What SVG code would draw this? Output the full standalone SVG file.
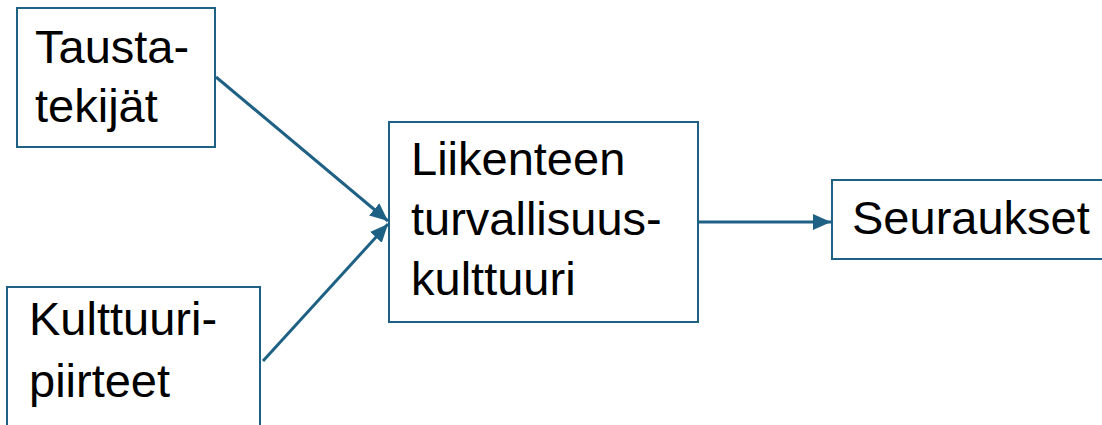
<svg xmlns="http://www.w3.org/2000/svg" width="1102" height="425" viewBox="0 0 1102 425">
  <style>
    .box { fill: #ffffff; stroke: #1f6184; stroke-width: 2; }
    .lbl { font-family: "Liberation Sans", Arial, sans-serif; font-size: 47px; fill: #000000; }
    .edge { fill: none; stroke: #1f6184; stroke-width: 3; }
  </style>
  <defs>
    <marker id="arrow" markerUnits="userSpaceOnUse" markerWidth="20" markerHeight="18" refX="18" refY="9" orient="auto">
      <path d="M0,1 L18,9 L0,17 Z" fill="#1f6184"/>
    </marker>
  </defs>
  <rect width="1102" height="425" fill="#ffffff"/>

  <g id="node-taustatekijat">
    <rect class="box" x="17" y="8" width="198" height="139"/>
    <text class="lbl" x="35" y="63">Tausta-</text>
    <text class="lbl" x="35" y="122">tekijät</text>
  </g>

  <g id="node-kulttuuripiirteet">
    <rect class="box" x="7" y="287" width="253" height="160"/>
    <text class="lbl" x="29" y="335">Kulttuuri-</text>
    <text class="lbl" x="29" y="397">piirteet</text>
  </g>

  <g id="node-turvallisuuskulttuuri">
    <rect class="box" x="389" y="122" width="309" height="200"/>
    <text class="lbl" x="411" y="175">Liikenteen</text>
    <text class="lbl" x="411" y="235">turvallisuus-</text>
    <text class="lbl" x="411" y="295">kulttuuri</text>
  </g>

  <g id="node-seuraukset">
    <rect class="box" x="832" y="180" width="290" height="79"/>
    <text class="lbl" x="852" y="234">Seuraukset</text>
  </g>

  <g id="connectors">
    <line class="edge" x1="216" y1="77" x2="388" y2="221" marker-end="url(#arrow)"/>
    <line class="edge" x1="263" y1="361" x2="388" y2="224" marker-end="url(#arrow)"/>
    <line class="edge" x1="699" y1="222" x2="831" y2="222" marker-end="url(#arrow)"/>
  </g>
</svg>
